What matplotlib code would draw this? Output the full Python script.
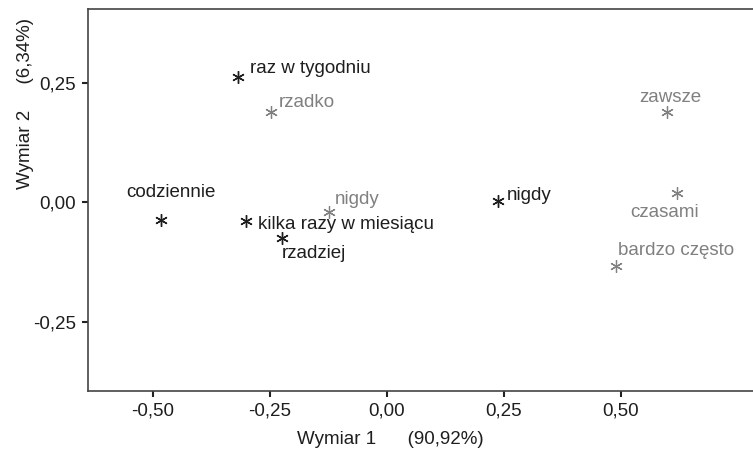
import matplotlib
matplotlib.use("Agg")
from matplotlib import pyplot as plt

plt.rcParams['font.family'] = ['Liberation Sans', 'DejaVu Sans']

# row categories (how often)
row_labels = ["raz w tygodniu", "codziennie", "kilka razy w miesiącu", "rzadziej", "nigdy"]
row_x = [-0.319, -0.483, -0.302, -0.224, 0.237]
row_y = [0.261, -0.038, -0.039, -0.076, 0.002]

# column categories
col_labels = ["rzadko", "nigdy", "zawsze", "czasami", "bardzo często"]
col_x = [-0.249, -0.124, 0.598, 0.620, 0.489]
col_y = [0.189, -0.020, 0.188, 0.019, -0.134]

x_ticks = [-0.50, -0.25, 0.00, 0.25, 0.50]
y_ticks = [-0.25, 0.00, 0.25]

# label placement: (dx px, dy px, ha)
row_offsets = [(12, 9, "left"), (10, 28, "center"), (12, -4, "left"), (0, -15, "left"), (9, 6, "left")]
col_offsets = [(8, 9, "left"), (6, 12, "left"), (3, 15, "center"), (-13, -19, "center"), (2, 16, "left")]

dark = "#1e1e1e"
grey = "#808080"
star = (6, 2, 0)
fs = 13.5


def fmt(v):
    return "{:.2f}".format(v).replace(".", ",")


fig = plt.figure(figsize=(7.53, 4.57), dpi=100)
ax_w = 0.95
ax = fig.add_axes([88 / 753, 66.5 / 457, ax_w, 381.5 / 457])

ax.plot(row_x, row_y, linestyle="none", marker=star, markersize=9,
        markeredgewidth=1.0, color=dark)
ax.plot(col_x, col_y, linestyle="none", marker=star, markersize=9,
        markeredgewidth=0.9, color=grey)

for lab, x, y, (dx, dy, ha) in zip(row_labels, row_x, row_y, row_offsets):
    ax.annotate(lab, (x, y), xytext=(dx, dy), textcoords="offset pixels",
                ha=ha, va="center", fontsize=fs, color=dark)
for lab, x, y, (dx, dy, ha) in zip(col_labels, col_x, col_y, col_offsets):
    ax.annotate(lab, (x, y), xytext=(dx, dy), textcoords="offset pixels",
                ha=ha, va="center", fontsize=fs, color=grey)

ax.set_xlim(-0.639, -0.639 + ax_w * 753 / 468)
ax.set_ylim(-0.394, 0.404)

ax.set_xticks(x_ticks)
ax.set_xticklabels([fmt(v) for v in x_ticks])
ax.set_yticks(y_ticks)
ax.set_yticklabels([fmt(v) for v in y_ticks])
ax.tick_params(direction="out", length=4.5, width=1.5, color="#222222",
               labelsize=fs, labelcolor=dark, pad=4)

for side in ["left", "bottom", "top"]:
    ax.spines[side].set_color("#444444")
    ax.spines[side].set_linewidth(1.2)
ax.spines["right"].set_visible(False)

ax.set_xlabel("Wymiar 1      (90,92%)", fontsize=fs, color=dark)
ax.xaxis.set_label_coords((390 - 88) / (ax_w * 753), -(431 - 390.5) / 381.5)
ax.set_ylabel("Wymiar 2     (6,34%)", fontsize=fs, color=dark)
ax.yaxis.set_label_coords(-(88 - 34) / (ax_w * 753), (390.5 - 104) / 381.5)

fig.savefig("out.png", dpi=100)
